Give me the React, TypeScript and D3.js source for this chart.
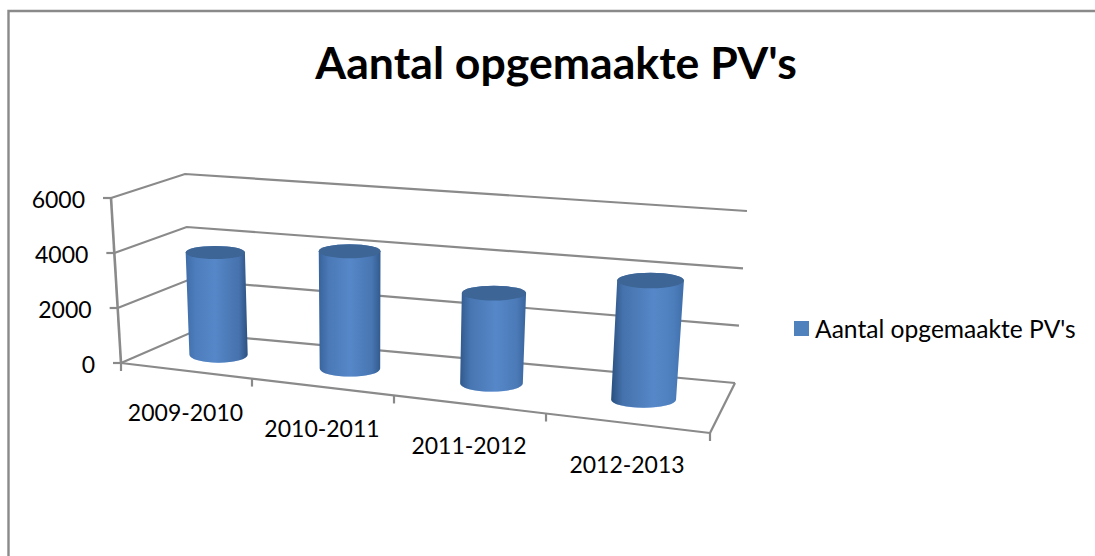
import React from "react";
import * as d3 from "d3";

const title = "Aantal opgemaakte PV's";
const categories = ["2009-2010", "2010-2011", "2011-2012", "2012-2013"];
const values = [3750, 4230, 3200, 4130];
const yTicks = [0, 2000, 4000, 6000];

const W = 1095;
const H = 556;
const GREY = "#8a8a8a";

// Plot box corners as seen in the picture (front/back, left/right; floor/top)
const floorFL = [121, 363], floorFR = [710, 433], floorBL = [190, 333], floorBR = [735, 383];
const topFL = [111, 198], topFR = [724, 255], topBL = [185, 174], topBR = [747, 211];

const lerp = (a: number[], b: number[], t: number) => [a[0] + (b[0] - a[0]) * t, a[1] + (b[1] - a[1]) * t];

// Perspective foreshortening along the category axis
const warp = d3.scaleLinear().domain([0, 0.25, 0.5, 0.75, 1]).range([0, 0.2224, 0.4635, 0.7216, 1]);
const yFrac = d3.scaleLinear().domain([0, 6000]).range([0, 1]);

function project(u: number, depth: number, value: number) {
  const s = warp(u);
  const floor = lerp(lerp(floorFL, floorFR, s), lerp(floorBL, floorBR, s), depth);
  const top = lerp(lerp(topFL, topFR, s), lerp(topBL, topBR, s), depth);
  return lerp(floor, top, yFrac(value));
}

const catU = d3.scaleBand<number>().domain(d3.range(categories.length)).range([0, 1]);
const rxTop = d3.scaleLinear().domain([0, 1]).range([29, 34]);
const rxBase = d3.scaleLinear().domain([0, 1]).range([28.6, 33]);
const ryTop = d3.scaleLinear().domain([0, 1]).range([6.4, 8]);
const leftEdge = d3.scaleLinear<string>().domain([0, 1]).range(["#4272b0", "#274a78"]);
const rightEdge = d3.scaleLinear<string>().domain([0, 1]).range(["#294c7a", "#4273b0"]);
const peak = d3.scaleLinear().domain([0, 1]).range([45, 60]);
const HIGHLIGHT = "#5687c8";

const line = (a: number[], b: number[]) => d3.line()([a as [number, number], b as [number, number]]) as string;

function Cylinder({ i, value }: { i: number; value: number }) {
  const u = (catU(i) as number) + catU.bandwidth() / 2;
  const b = project(u, 0.5, 0);
  const t = project(u, 0.5, value);
  const rt = rxTop(u), rb = rxBase(u), ry = ryTop(u), rby = 8;
  const body =
    `M${t[0] - rt},${t[1]} L${b[0] - rb},${b[1]} ` +
    `A${rb},${rby} 0 0 0 ${b[0] + rb},${b[1]} L${t[0] + rt},${t[1]} ` +
    `A${rt},${ry} 0 0 0 ${t[0] - rt},${t[1]} Z`;
  const rim = `M${b[0] - rb + 4},${b[1] + 3.2} A${rb},${rby} 0 0 0 ${b[0] + rb - 4},${b[1] + 3.2}`;
  const lm = d3.interpolateRgb(leftEdge(u), HIGHLIGHT)(0.62);
  const rm = d3.interpolateRgb(rightEdge(u), HIGHLIGHT)(0.62);
  return (
    <g>
      <defs>
        <linearGradient id={`cyl${i}`} x1="0" x2="1" y1="0" y2="0">
          <stop offset="0%" stopColor={leftEdge(u)} />
          <stop offset="16%" stopColor={lm} />
          <stop offset={`${peak(u)}%`} stopColor={HIGHLIGHT} />
          <stop offset="86%" stopColor={rm} />
          <stop offset="100%" stopColor={rightEdge(u)} />
        </linearGradient>
      </defs>
      <path d={rim} fill="none" stroke="#a8c4ee" strokeWidth={1.6} />
      <path d={body} fill={`url(#cyl${i})`} />
      <ellipse cx={t[0]} cy={t[1]} rx={rt} ry={ry} fill="#3d6595" />
    </g>
  );
}

export default function App() {
  return (
    <svg
      width={W}
      height={H}
      viewBox={`0 0 ${W} ${H}`}
      style={{ position: "absolute", left: 0, top: 0, display: "block", background: "#fff", fontFamily: "Lato, sans-serif" }}
    >
      {/* chart frame */}
      <path d={`M8.5,${H} V11 H${W}`} fill="none" stroke={GREY} strokeWidth={2.4} />

      <text x={556} y={61} textAnchor="middle" dominantBaseline="central" fontSize={44.6} fontWeight={700} fill="#000">
        {title}
      </text>

      {/* walls and gridlines */}
      <g stroke={GREY} strokeWidth={2.2} fill="none">
        {yTicks.map((v) => {
          const f = project(0, 0, v);
          const bl = project(0, 1, v);
          const br = project(1, 1, v);
          return (
            <g key={v}>
              <path d={d3.line()([f, bl, br] as [number, number][]) as string} />
              <path d={line([f[0] - 8, f[1]], f)} />
            </g>
          );
        })}
        <path d={line(project(0, 0, 0), project(0, 0, 6000))} strokeWidth={2.6} />
        <path d={line(project(0, 0, 0), project(1, 0, 0))} />
        <path d={line(project(1, 0, 0), project(1, 1, 0))} />
        {d3.range(categories.length + 1).map((i) => {
          const p = project(i / categories.length, 0, 0);
          return <path key={i} d={line(p, [p[0], p[1] + 8])} />;
        })}
      </g>

      {/* y tick labels */}
      <g fontSize={23} fill="#000" textAnchor="end">
        {yTicks.map((v) => {
          const f = project(0, 0, v);
          return (
            <text key={v} x={f[0] - 26} y={f[1] + 1} dominantBaseline="central">
              {v}
            </text>
          );
        })}
      </g>

      {/* cylinders */}
      {values.map((v, i) => (
        <Cylinder key={i} i={i} value={v} />
      ))}

      {/* category labels */}
      <g fontSize={23} fill="#000" textAnchor="middle">
        {categories.map((c, i) => {
          const u = (catU(i) as number) + catU.bandwidth() / 2;
          const p = project(u, 0, 0);
          return (
            <text key={c} x={p[0] - 1} y={p[1] + 41} dominantBaseline="central">
              {c}
            </text>
          );
        })}
      </g>

      {/* legend */}
      <rect x={794} y={321} width={15} height={15} fill="#4f81bd" />
      <text x={815} y={328} fontSize={24.6} fill="#000" dominantBaseline="central">
        {title}
      </text>
    </svg>
  );
}
